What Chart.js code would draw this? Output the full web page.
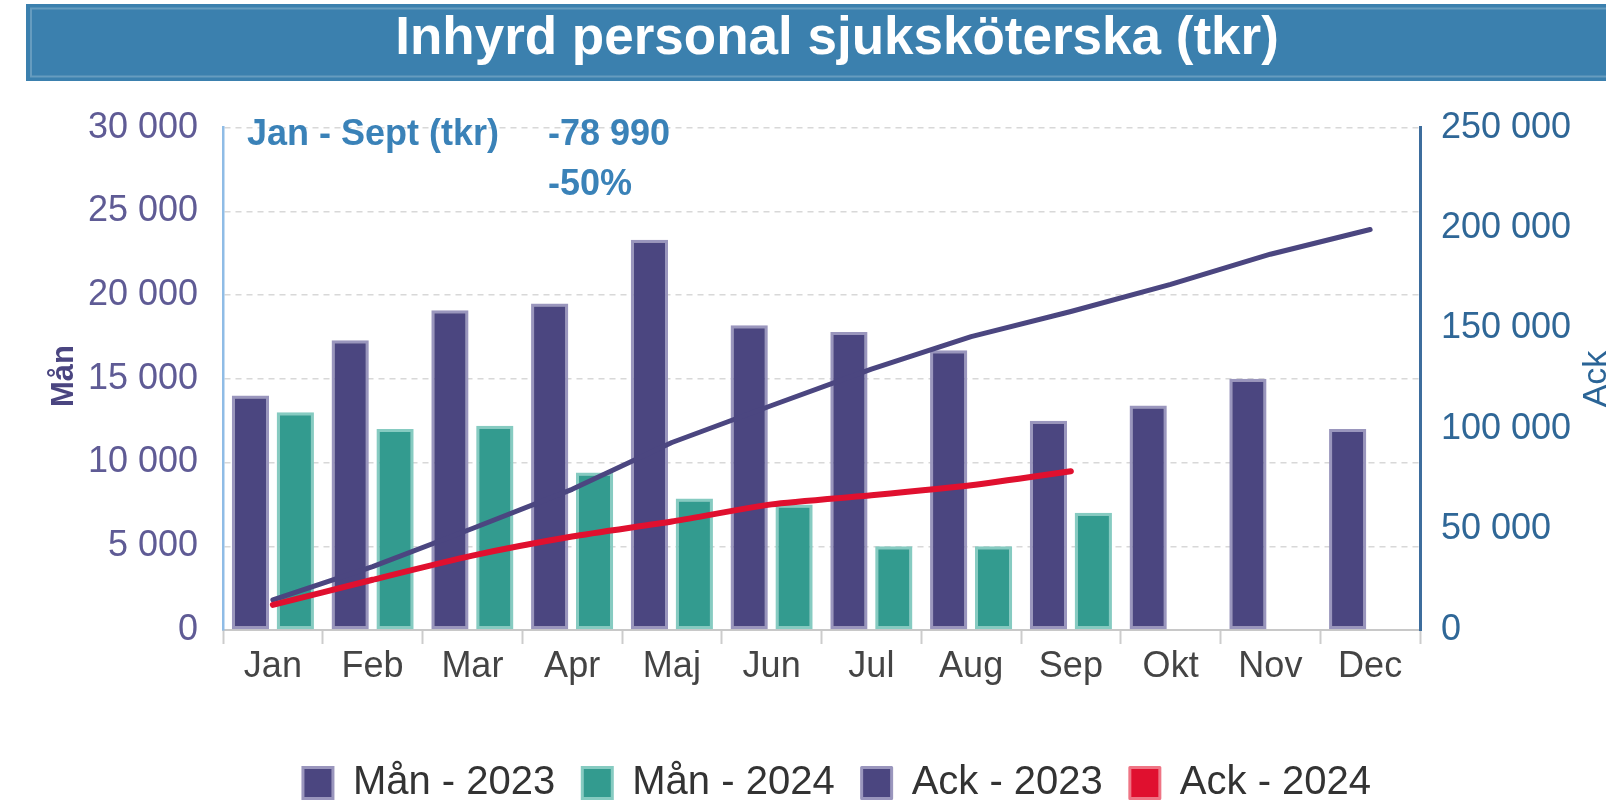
<!DOCTYPE html>
<html>
<head>
<meta charset="utf-8">
<script src="https://cdn.jsdelivr.net/npm/chart.js@4.4.1/dist/chart.umd.min.js"></script>
<style>
  html, body { margin: 0; padding: 0; background: #ffffff; }
  #wrap { width: 1606px; height: 803px; position: relative; }
  canvas { display: block; }
</style>
</head>
<body>
<div id="wrap"><canvas id="c" width="1606" height="803"></canvas></div>
<script>
// ---- data ----
const titleText = 'Inhyrd personal sjuksköterska (tkr)';
const months = ['Jan','Feb','Mar','Apr','Maj','Jun','Jul','Aug','Sep','Okt','Nov','Dec'];
const man2023 = [14000, 17300, 19100, 19500, 23300, 18200, 17800, 16700, 12500, 13400, 15000, 12000];
const man2024 = [13000, 12000, 12200, 9400, 7850, 7500, 5000, 5000, 7000, null, null, null];
const ack2023 = [15000, 31500, 50500, 70000, 93300, 111700, 129800, 146000, 158500, 172000, 187000, 199300];
const ack2024 = [12500, 25000, 37000, 46500, 54000, 62500, 67000, 72000, 79000, null, null, null];
const seriesLabels = ['Mån - 2023', 'Mån - 2024', 'Ack - 2023', 'Ack - 2024'];
const leftTickLabels = ['0', '5 000', '10 000', '15 000', '20 000', '25 000', '30 000'];
const rightTickLabels = ['0', '50 000', '100 000', '150 000', '200 000', '250 000'];
const leftAxisTitle = 'Mån';
const rightAxisTitle = 'Ack';
const noteLabel = 'Jan - Sept (tkr)';
const noteDiff = '-78 990';
const notePct = '-50%';

// ---- styles ----
const FONT = '"Liberation Sans", Arial, sans-serif';
const C23 = '#4b4680', C23B = '#9a96bd';
const C24 = '#339b8f', C24B = '#86cbc1';
const CRED = '#e0102f', CREDB = '#ef7585';
const legendFill = [C23, C24, C23, CRED];
const legendStroke = [C23B, C24B, C23B, CREDB];

const decorPlugin = {
  id: 'decor',
  beforeDraw(chart) {
    const ctx = chart.ctx;
    ctx.save();
    ctx.fillStyle = '#3b80ae';
    ctx.fillRect(26, 4, 1600, 77);
    ctx.strokeStyle = 'rgba(255,255,255,0.22)';
    ctx.lineWidth = 2;
    ctx.strokeRect(31, 8.5, 1600, 68);
    ctx.restore();
  },
  afterDraw(chart) {
    const ctx = chart.ctx;
    ctx.save();
    ctx.fillStyle = '#3a82b8';
    ctx.font = 'bold 36px ' + FONT;
    ctx.textAlign = 'left';
    ctx.textBaseline = 'alphabetic';
    ctx.fillText(noteLabel, 247, 145);
    ctx.fillText(noteDiff, 548, 145);
    ctx.fillText(notePct, 548, 195);

    // left axis title
    ctx.save();
    ctx.translate(73, 376);
    ctx.rotate(-Math.PI / 2);
    ctx.fillStyle = '#4a4580';
    ctx.font = 'bold 31px ' + FONT;
    ctx.textAlign = 'center';
    ctx.fillText(leftAxisTitle, 0, 0);
    ctx.restore();

    // right axis title
    ctx.save();
    ctx.translate(1606, 379);
    ctx.rotate(-Math.PI / 2);
    ctx.fillStyle = '#2a6496';
    ctx.font = '34px ' + FONT;
    ctx.textAlign = 'center';
    ctx.fillText(rightAxisTitle, 0, 0);
    ctx.restore();
    ctx.restore();
  }
};

const ctx = document.getElementById('c').getContext('2d');
new Chart(ctx, {
  data: {
    labels: months,
    datasets: [
      { type: 'bar', label: seriesLabels[0], data: man2023, yAxisID: 'y', order: 2,
        backgroundColor: C23, borderColor: C23B, borderWidth: 3, borderSkipped: false,
        categoryPercentage: 0.9, barPercentage: 0.83 },
      { type: 'bar', label: seriesLabels[1], data: man2024, yAxisID: 'y', order: 2,
        backgroundColor: C24, borderColor: C24B, borderWidth: 3, borderSkipped: false,
        categoryPercentage: 0.9, barPercentage: 0.83 },
      { type: 'line', label: seriesLabels[2], data: ack2023, yAxisID: 'y1', order: 1,
        borderColor: C23, backgroundColor: C23, borderWidth: 5, pointRadius: 0,
        tension: 0, fill: false, borderCapStyle: 'round', borderJoinStyle: 'round' },
      { type: 'line', label: seriesLabels[3], data: ack2024, yAxisID: 'y1', order: 0,
        borderColor: CRED, backgroundColor: CRED, borderWidth: 6, pointRadius: 0,
        tension: 0.2, fill: false, borderCapStyle: 'round', borderJoinStyle: 'round' }
    ]
  },
  options: {
    responsive: false,
    animation: false,
    devicePixelRatio: 1,
    layout: { padding: { left: 68, right: 0, top: 0, bottom: 0 } },
    plugins: {
      tooltip: { enabled: false },
      title: {
        display: true,
        text: titleText,
        color: '#ffffff',
        font: { family: FONT, size: 53, weight: 'bold', lineHeight: 1.2 },
        padding: { top: 8, bottom: 56 }
      },
      legend: {
        position: 'bottom',
        maxHeight: 67,
        labels: {
          boxWidth: 30,
          boxHeight: 31,
          padding: 27,
          color: '#333333',
          font: { family: FONT, size: 40 },
          sort: (a, b) => a.datasetIndex - b.datasetIndex,
          generateLabels(chart) {
            const items = Chart.defaults.plugins.legend.labels.generateLabels(chart);
            items.forEach(it => {
              it.fillStyle = legendFill[it.datasetIndex];
              it.strokeStyle = legendStroke[it.datasetIndex];
              it.lineWidth = 3;
              it.lineDash = [];
              it.lineCap = 'butt';
            });
            return items;
          }
        }
      }
    },
    scales: {
      x: {
        afterFit(scale) { scale.height = 106; },
        grid: { drawOnChartArea: false, drawTicks: true, tickLength: 14, tickColor: '#cccccc', tickWidth: 2 },
        border: { color: '#c8c8c8', width: 2 },
        ticks: { color: '#444444', padding: 1, font: { family: FONT, size: 36 }, maxRotation: 0, autoSkip: false }
      },
      y: {
        position: 'left',
        min: 0, max: 30000,
        afterFit(scale) { scale.width = 155; },
        ticks: {
          stepSize: 5000,
          padding: 25,
          color: '#5f5b95',
          font: { family: FONT, size: 36 },
          callback: (v, i) => leftTickLabels[i]
        },
        grid: { color: '#d8d8d8', lineWidth: 1.5, drawTicks: false },
        border: { color: '#8fbce6', width: 2.5, dash: [6, 5] }
      },
      y1: {
        position: 'right',
        min: 0, max: 250000,
        afterFit(scale) { scale.width = 186; },
        ticks: {
          stepSize: 50000,
          padding: 21,
          color: '#2f6797',
          font: { family: FONT, size: 36 },
          callback: (v, i) => rightTickLabels[i]
        },
        grid: { drawOnChartArea: false, drawTicks: false },
        border: { color: '#3d6d9d', width: 3 }
      }
    }
  },
  plugins: [decorPlugin]
});
</script>
</body>
</html>
